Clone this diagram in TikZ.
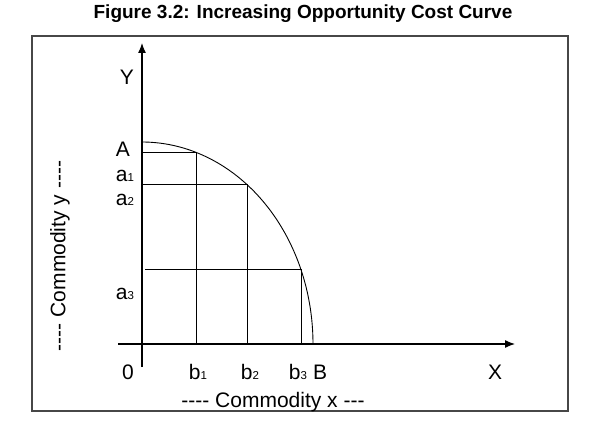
\documentclass[tikz,border=0pt]{standalone}
\usepackage{fontspec}
\setmainfont{Liberation Sans}
\usetikzlibrary{arrows.meta}
\newcommand{\smalldig}[1]{{\fontsize{11.5}{11.5}\selectfont #1}}
\newcommand{\dsh}{-{}-{}-{}-}
\begin{document}
\begin{tikzpicture}[x=1pt,y=-1pt,
  lbl/.style={font=\fontsize{21}{21}\selectfont, inner sep=0pt, anchor=base},
  axis/.style={line width=1.2pt, -{Latex[length=10pt,width=8pt]}},
  grid/.style={line width=1pt},
  curve/.style={line width=0.9pt},
  frame/.style={draw=black!72, line width=1.6pt}]
\useasboundingbox (0,0) rectangle (613,425);
% frame
\draw[frame] (32,36) rectangle (568,411);
% title
\node[font=\bfseries\fontsize{19}{19}\selectfont, inner sep=0pt, anchor=base] (title) at (303,18.5) {Figure 3.2: Increasing Opportunity Cost Curve};
% coordinates
\coordinate (O) at (142,344);
\coordinate (ybot) at (142,367);
\coordinate (ytop) at (142,43);
\coordinate (xleft) at (118,344);
\coordinate (xright) at (515,344);
\coordinate (A) at (142,142);
\coordinate (B) at (313,344);
\coordinate (P1) at (196,152.3);
\coordinate (P2) at (247,184.6);
\coordinate (P3) at (301,269.7);
\coordinate (Q1) at (196,344);
\coordinate (Q2) at (247,344);
\coordinate (Q3) at (301,344);
\coordinate (R1) at (142,152.3);
\coordinate (R2) at (142,184.6);
\coordinate (R3) at (145,269.7);
% axes
\draw[axis] (ybot) -- (ytop);
\draw[axis] (xleft) -- (xright);
% curve
\draw[curve] plot[domain=90:0, samples=80, smooth] ({142+171*cos(\x)}, {344-202*sin(\x)});
% grid lines
\draw[grid] (R1) -- (P1) -- (Q1);
\draw[grid] (R2) -- (P2) -- (Q2);
\draw[grid] (R3) -- (P3) -- (Q3);
% labels
\node[lbl] (Ylab) at (127,85) {Y};
\node[lbl] (Alab) at (123,156.5) {A};
\node[lbl] (a1) at (125,182) {a\smalldig{1}};
\node[lbl] (a2) at (125,205) {a\smalldig{2}};
\node[lbl] (a3) at (125,299) {a\smalldig{3}};
\node[lbl] (zero) at (128,379.5) {0};
\node[lbl] (b1) at (198,379.5) {b\smalldig{1}};
\node[lbl] (b2) at (250,379.5) {b\smalldig{2}};
\node[lbl] (b3) at (298,379.5) {b\smalldig{3}};
\node[lbl] (Blab) at (320,379.5) {B};
\node[lbl] (Xlab) at (495,379.5) {X};
\node[lbl] (cx) at (273,407) {\dsh{} Commodity x -{}-{}-};
\node[font=\fontsize{21}{21}\selectfont, inner sep=0pt, rotate=90] (cy) at (60,256) {\dsh{} Commodity y \dsh};
\end{tikzpicture}
\end{document}
